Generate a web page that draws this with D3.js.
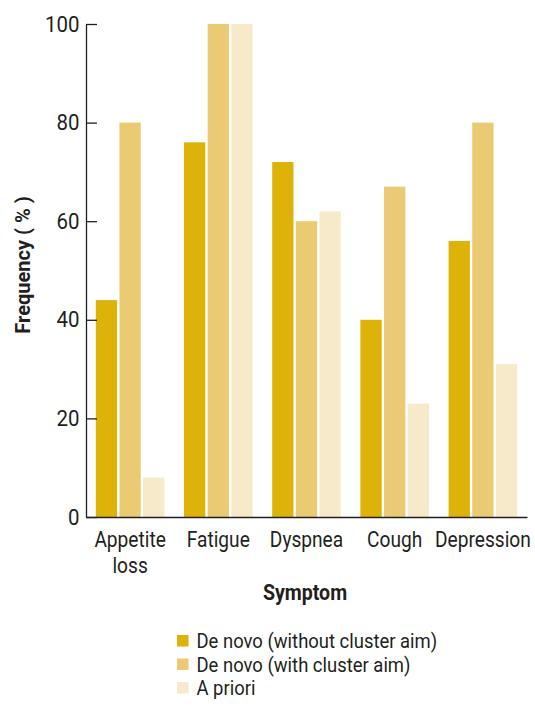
<!DOCTYPE html>
<html><head><meta charset="utf-8">
<script src="https://cdn.jsdelivr.net/npm/d3@7"></script>
<style>
body{margin:0;background:#fff;}
text{font-family:"Roboto","Liberation Sans",sans-serif;fill:#231f20;}
</style></head><body>
<svg id="c" width="535" height="707"></svg>
<script>
const categories = ["Appetite loss","Fatigue","Dyspnea","Cough","Depression"];
const seriesNames = ["De novo (without cluster aim)","De novo (with cluster aim)","A priori"];
const deNovoWithout = [44, 76, 72, 40, 56];
const deNovoWith = [80, 100, 60, 67, 80];
const aPriori = [8, 100, 62, 23, 31];
const yTicks = [0, 20, 40, 60, 80, 100];
const colors = ["#DDB209", "#EACA73", "#F6EACB"];

const seriesValues = [deNovoWithout, deNovoWith, aPriori];
const svg = d3.select("#c");
const mLeft = 86, mRight = 527, mTop = 24, mBottom = 517;
const FONT = '"Roboto","Liberation Sans",sans-serif';

const x0 = d3.scaleBand().domain(categories).range([mLeft, mRight]).padding(0);
const x1 = d3.scaleBand().domain(seriesNames).range([9.8, x0.bandwidth() - 9.8]).paddingInner(0.1);
const y = d3.scaleLinear().domain([0, 100]).range([mBottom, mTop]);

// bars
categories.forEach((c, i) => {
  seriesNames.forEach((s, j) => {
    svg.append("rect")
      .attr("x", x0(c) + x1(s))
      .attr("width", x1.bandwidth())
      .attr("y", y(seriesValues[j][i]))
      .attr("height", y(0) - y(seriesValues[j][i]))
      .attr("fill", colors[j]);
  });
});

// y axis
const yAxis = d3.axisLeft(y).tickValues(yTicks).tickSizeInner(-11).tickSizeOuter(0).tickPadding(7);
const ga = svg.append("g").attr("transform", `translate(${mLeft},0)`).call(yAxis);
ga.select(".domain").attr("stroke", "#231f20").attr("stroke-width", 1.3);
ga.selectAll(".tick line").attr("stroke", "#231f20").attr("stroke-width", 1.3);
ga.selectAll(".tick text").attr("font-size", 22).style("font-family", FONT).attr("fill", "#231f20")
  .attr("transform", "scale(0.93,1)");

// x axis
const xAxis = d3.axisBottom(x0).tickSize(0).tickPadding(14);
const gx = svg.append("g").attr("transform", `translate(0,${mBottom})`).call(xAxis);
gx.select(".domain").attr("stroke", "#231f20").attr("stroke-width", 1.3);
gx.selectAll(".tick text").attr("font-size", 22).style("font-family", FONT).attr("fill", "#231f20")
  .attr("transform", "scale(0.87,1)")
  .each(function(d) {
    const t = d3.select(this);
    if (d === "Appetite loss") {
      t.text(null);
      t.append("tspan").attr("x", 0).attr("dy", "0.71em").text("Appetite");
      t.append("tspan").attr("x", 0).attr("dy", "1.22em").text("loss");
    }
  });

// axis titles
svg.append("text")
  .attr("transform", `translate(30,265) rotate(-90)`)
  .attr("text-anchor", "middle")
  .attr("font-size", 20).attr("font-weight", "bold")
  .text("Frequency ( % )");
svg.append("text")
  .attr("transform", "translate(305,600) scale(0.91,1)")
  .attr("text-anchor", "middle")
  .attr("font-size", 21.5).attr("font-weight", "bold")
  .text("Symptom");

// legend
const lg = svg.append("g").attr("transform", "translate(177,641)");
seriesNames.forEach((s, j) => {
  const row = lg.append("g").attr("transform", `translate(0,${j * 23.5})`);
  row.append("rect").attr("x", 0).attr("y", -6).attr("width", 11.5).attr("height", 11.5).attr("fill", colors[j]);
  row.append("text").attr("transform", "translate(19.5,0) scale(0.9,1)").attr("dy", "0.35em").attr("font-size", 20.5).text(s);
});
</script>
</body></html>
